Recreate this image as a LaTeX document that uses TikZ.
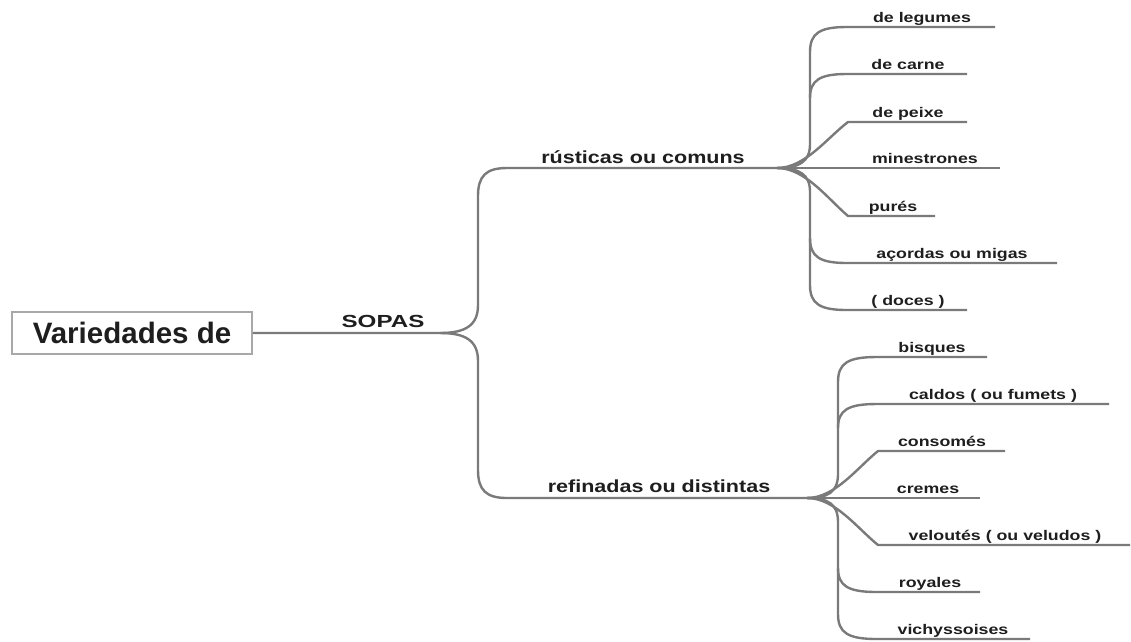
\documentclass[tikz,border=0pt]{standalone}
\usepackage{fontspec}
\setmainfont{Liberation Sans}
\usepackage{graphicx}
\definecolor{linegray}{HTML}{7A7A7A}
\definecolor{boxgray}{HTML}{A8A8A8}
\definecolor{txtcol}{HTML}{1E1E1E}
\newcommand{\hwide}[2]{\scalebox{#1}[1]{#2}}
\newcommand{\leaftxt}[1]{\hwide{1.27}{#1}}
\newcommand{\midtxt}[1]{\hwide{1.23}{#1}}
\tikzset{
  conn/.style={draw=linegray, line width=2.4pt},
  leaf/.style={anchor=base, inner sep=0pt, text=txtcol, font=\fontsize{14}{14}\selectfont\bfseries},
  midlabel/.style={anchor=base, inner sep=0pt, text=txtcol, font=\fontsize{17.5}{17.5}\selectfont\bfseries},
  rootbox/.style={draw=boxgray, line width=1.8pt, minimum width=240pt, minimum height=42pt, inner sep=0pt, text=txtcol, font=\fontsize{29.5}{29.5}\selectfont\bfseries}
}
\begin{document}
\begin{tikzpicture}[x=1pt,y=-1pt]
\useasboundingbox (0,0) rectangle (1131,641);
\fill[white] (0,0) rectangle (1131,641);

% root
\node[rootbox] (main) at (132,333) {Variedades de};
\coordinate (sp) at (440,333);
\coordinate (b1) at (777,168);
\coordinate (b2) at (807,498);
\node[midlabel] (sopas) at (383,327) {\hwide{1.38}{SOPAS}};
\node[midlabel] (rust) at (643,163) {\midtxt{rústicas ou comuns}};
\node[midlabel] (refi) at (659,492) {\midtxt{refinadas ou distintas}};

\draw[conn] (main.east) -- (sp) .. controls (466,333) and (478,325) .. (478,305) -- (478,196) .. controls (478,176) and (486,168) .. (507,168) -- (b1);
\draw[conn] (sp) .. controls (466,333) and (478,341) .. (478,361) -- (478,470) .. controls (478,490) and (486,498) .. (507,498) -- (b2);

% upper group
\begin{scope}[shift={(777,168)}]
\coordinate (u1e) at (218,-141);
\coordinate (u2e) at (190,-94);
\coordinate (u3e) at (190,-46);
\coordinate (u4e) at (223,0);
\coordinate (u5e) at (158,48);
\coordinate (u6e) at (280,95);
\coordinate (u7e) at (190,142);
\draw[conn] (b1) .. controls (22,0) and (33,-6) .. (33,-24) -- (33,-116) .. controls (33,-135) and (43,-141) .. (70,-141) -- (u1e);
\draw[conn] (33,-70) .. controls (33,-88) and (43,-94) .. (70,-94) -- (u2e);
\draw[conn] (b1) .. controls (28,0) and (50,-30) .. (71,-46) -- (u3e);
\draw[conn] (b1) -- (u4e);
\draw[conn] (b1) .. controls (28,0) and (50,30) .. (71,48) -- (u5e);
\draw[conn] (b1) .. controls (22,0) and (33,6) .. (33,24) -- (33,117) .. controls (33,136) and (43,142) .. (70,142) -- (u7e);
\draw[conn] (33,70) .. controls (33,89) and (43,95) .. (70,95) -- (u6e);
\node[leaf] (u1) at (145,-146) {\leaftxt{de legumes}};
\node[leaf] (u2) at (131,-99) {\leaftxt{de carne}};
\node[leaf] (u3) at (131,-51) {\leaftxt{de peixe}};
\node[leaf] (u4) at (148,-5) {\leaftxt{minestrones}};
\node[leaf] (u5) at (116,43) {\leaftxt{purés}};
\node[leaf] (u6) at (175,90) {\leaftxt{açordas ou migas}};
\node[leaf] (u7) at (131,137) {\leaftxt{( doces )}};
\end{scope}

% lower group
\begin{scope}[shift={(807,498)}]
\coordinate (l1e) at (180,-141);
\coordinate (l2e) at (302,-94);
\coordinate (l3e) at (198,-47);
\coordinate (l4e) at (173,0);
\coordinate (l5e) at (323,47);
\coordinate (l6e) at (173,94);
\coordinate (l7e) at (223,141);
\draw[conn] (b2) .. controls (21,0) and (31,-6) .. (31,-24) -- (31,-116) .. controls (31,-135) and (41,-141) .. (70,-141) -- (l1e);
\draw[conn] (31,-70) .. controls (31,-88) and (41,-94) .. (70,-94) -- (l2e);
\draw[conn] (b2) .. controls (28,0) and (50,-30) .. (71,-47) -- (l3e);
\draw[conn] (b2) -- (l4e);
\draw[conn] (b2) .. controls (28,0) and (50,30) .. (71,47) -- (l5e);
\draw[conn] (b2) .. controls (21,0) and (31,6) .. (31,24) -- (31,116) .. controls (31,135) and (41,141) .. (70,141) -- (l7e);
\draw[conn] (31,70) .. controls (31,88) and (41,94) .. (70,94) -- (l6e);
\node[leaf] (l1) at (125,-146) {\leaftxt{bisques}};
\node[leaf] (l2) at (186,-99) {\leaftxt{caldos ( ou fumets )}};
\node[leaf] (l3) at (135,-52) {\leaftxt{consomés}};
\node[leaf] (l4) at (121,-5) {\leaftxt{cremes}};
\node[leaf] (l5) at (198,42) {\leaftxt{veloutés ( ou veludos )}};
\node[leaf] (l6) at (123,89) {\leaftxt{royales}};
\node[leaf] (l7) at (146,136) {\leaftxt{vichyssoises}};
\end{scope}
\end{tikzpicture}
\end{document}
